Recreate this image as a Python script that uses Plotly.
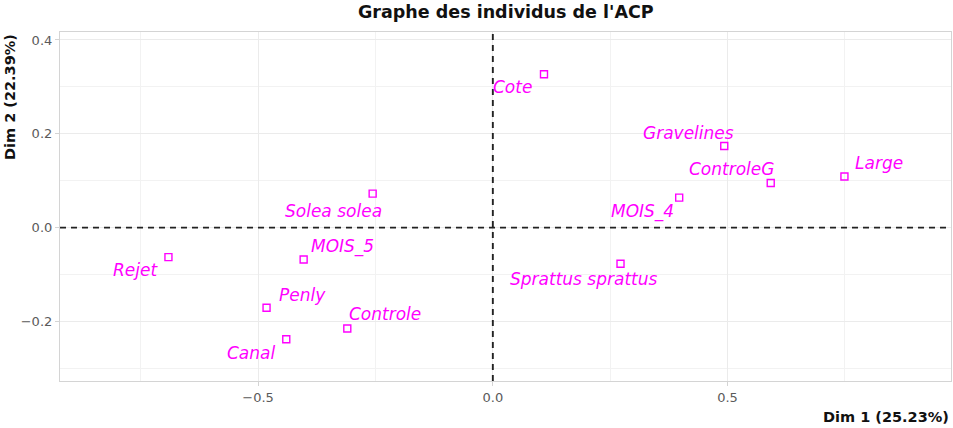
import plotly.graph_objects as go

# Data (PCA individuals coordinates)
names = ["Cote", "Gravelines", "ControleG", "Large", "MOIS_4", "Solea solea",
         "Rejet", "MOIS_5", "Penly", "Controle", "Canal", "Sprattus sprattus"]
dim1 = [0.109, 0.493, 0.592, 0.749, 0.397, -0.256,
        -0.691, -0.403, -0.482, -0.310, -0.440, 0.272]
dim2 = [0.327, 0.174, 0.095, 0.109, 0.064, 0.0725,
        -0.063, -0.068, -0.171, -0.215, -0.238, -0.077]

# label pixel offsets (repel-style placement)
label_dx = [-31, -36, -39, 35, -37, -39, -33, 39, 36, 38, -35, -37]
label_dy = [-13, 13, 14, 13, -14, -17, -13, 13, 13, 14, -14, -15]

title = "Graphe des individus de l'ACP"
xlab = "Dim 1 (25.23%)"
ylab = "Dim 2 (22.39%)"

FONT = "DejaVu Sans, Liberation Sans, sans-serif"
MAG = "#FF00FF"

fig = go.Figure()
fig.add_trace(go.Scatter(
    x=dim1, y=dim2, mode="markers",
    marker=dict(symbol="square-open", size=7, color=MAG, line=dict(width=1.4, color=MAG)),
    hoverinfo="text", text=names, showlegend=False,
))

for n, x, y, dx, dy in zip(names, dim1, dim2, label_dx, label_dy):
    fig.add_annotation(x=x, y=y, xref="x", yref="y", text=n, showarrow=False,
                       xshift=dx, yshift=dy,
                       font=dict(family=FONT, size=17, color=MAG, style="italic"))

dash = dict(color="#222222", width=1.9, dash="6px,5px")
fig.add_shape(type="line", xref="x", yref="paper", x0=0, x1=0, y0=0, y1=1, line=dash, layer="above")
fig.add_shape(type="line", xref="paper", yref="y", x0=0, x1=1, y0=0, y1=0, line=dash, layer="above")

fig.add_annotation(text=f"<b>{title}</b>", xref="paper", yref="paper", x=0.5, y=1,
                   yshift=20, showarrow=False, xanchor="center", yanchor="middle",
                   font=dict(family=FONT, size=17.5, color="#111111"))
fig.add_annotation(text=f"<b>{xlab}</b>", xref="paper", yref="paper", x=1, y=0,
                   yshift=-36, showarrow=False, xanchor="right", yanchor="middle",
                   font=dict(family=FONT, size=14.5, color="#111111"))
fig.add_annotation(text=f"<b>{ylab}</b>", xref="paper", yref="paper", x=0, y=1,
                   xshift=-50, showarrow=False, xanchor="center", yanchor="top",
                   textangle=-90,
                   font=dict(family=FONT, size=14.5, color="#111111"))

grid = "#EBEBEB"
axis_common = dict(
    showgrid=True, gridcolor=grid, gridwidth=1,
    zeroline=False, showline=True, linecolor="#D4D4D4", linewidth=1.2, mirror=True,
    ticks="outside", ticklen=4, tickcolor="#D4D4D4",
    tickfont=dict(family=FONT, size=13, color="#5A5A5A"),
)
fig.update_layout(
    width=953, height=428,
    margin=dict(l=60, r=2, t=32, b=47, autoexpand=False),
    paper_bgcolor="white", plot_bgcolor="white",
    xaxis=dict(range=[-0.922, 0.976], dtick=0.5, tick0=0, tickformat=".1f",
               minor=dict(dtick=0.25, tick0=0, showgrid=True, gridcolor="#F2F2F2", ticks=""),
               **axis_common),
    yaxis=dict(range=[-0.327, 0.417], dtick=0.2, tick0=0, tickformat=".1f",
               minor=dict(dtick=0.1, tick0=0, showgrid=True, gridcolor="#F2F2F2", ticks=""),
               **axis_common),
)

fig.write_html("out.html", config={"displayModeBar": False},
               post_script="document.body.style.margin='0';document.body.style.overflow='hidden';")
